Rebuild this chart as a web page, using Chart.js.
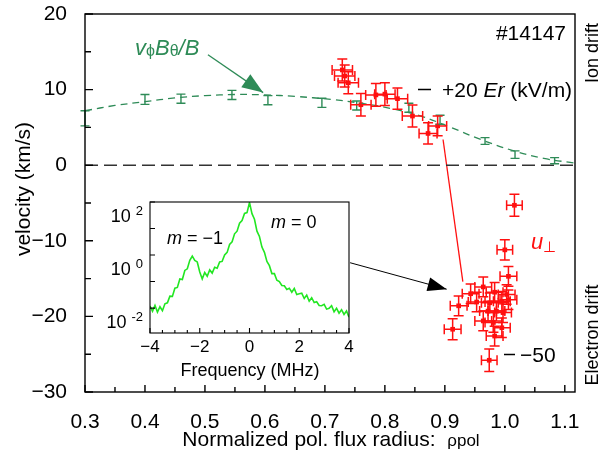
<!DOCTYPE html>
<html>
<head>
<meta charset="utf-8">
<script src="https://cdn.jsdelivr.net/npm/chart.js@4.4.1/dist/chart.umd.min.js"></script>
<style>
  html, body { margin: 0; padding: 0; background: #fff; }
  #wrap { position: relative; width: 610px; height: 451px; }
  #main { position: absolute; left: 0; top: 0; }
  #inset { position: absolute; left: 100px; top: 195px; }
</style>
</head>
<body>
<div id="wrap">
  <canvas id="main" width="610" height="451"></canvas>
  <canvas id="inset" width="260" height="190"></canvas>
</div>
<script>
const FONT = '"Liberation Sans", Arial, sans-serif';
const GREEN = '#2e8b57';
const RED = '#ff1010';
const LIME = '#22e622';

// v_phi * B_theta / B, with error bars
const greenRho = [0.30, 0.40, 0.46, 0.545, 0.605, 0.695, 0.753, 0.84, 0.892, 0.967, 1.017, 1.083];
const greenVel = [6.2, 8.7, 8.8, 9.3, 8.6, 8.25, 7.9, 7.6, 6.0, 3.2, 1.4, 0.6];
const greenErr = [1.0, 0.65, 0.6, 0.6, 0.6, 0.6, 0.6, 0.6, 0.6, 0.45, 0.5, 0.4];

// smooth fit through the v_phi B_theta / B points
const fitRho = [0.30, 0.35, 0.40, 0.45, 0.50, 0.55, 0.60, 0.65, 0.71, 0.76, 0.81, 0.86, 0.91, 0.96, 1.015, 1.065, 1.115];
const fitVel = [7.2, 7.9, 8.4, 8.9, 9.2, 9.35, 9.3, 9.1, 8.7, 8.2, 7.5, 6.5, 5.0, 3.4, 1.9, 0.9, 0.3];

// u_perp from Doppler reflectometry
const redRho = [0.729, 0.733, 0.739, 0.760, 0.785, 0.800, 0.821, 0.846, 0.872, 0.888,
                1.016, 1.000, 1.006, 0.964, 0.943, 0.923, 0.913, 0.983, 1.003, 0.953,
                0.975, 0.995, 1.006, 0.972, 0.986, 0.997, 0.964, 0.981, 0.995, 0.983, 0.974];
const redVel = [12.6, 11.8, 10.9, 8.0, 9.3, 9.4, 8.8, 6.5, 4.2, 5.2,
                -5.3, -11.2, -14.7, -16.1, -17.0, -18.6, -21.7, -16.8, -17.1, -18.1,
                -18.2, -18.0, -17.8, -19.3, -19.3, -19.5, -20.6, -20.8, -21.5, -22.6, -25.8];
const redErrX = [0.017, 0.017, 0.017, 0.017, 0.017, 0.017, 0.017, 0.017, 0.015, 0.015,
                 0.013, 0.013, 0.014, 0.014, 0.014, 0.014, 0.014, 0.014, 0.014, 0.014,
                 0.014, 0.014, 0.014, 0.014, 0.014, 0.014, 0.014, 0.014, 0.014, 0.014, 0.013];
const redErrY = [1.45, 1.45, 1.45, 1.5, 1.5, 1.5, 1.4, 1.45, 1.4, 1.3,
                 1.45, 1.35, 1.3, 1.3, 1.3, 1.3, 1.4, 1.3, 1.3, 1.3,
                 1.3, 1.3, 1.3, 1.3, 1.3, 1.3, 1.3, 1.3, 1.3, 1.3, 1.5];

// connector and arrows
const redLineRho = [0.897, 0.930];
const redLineVel = [3.4, -15.4];
const blackArrowRho = [0.742, 0.903];
const blackArrowVel = [-12.9, -16.4];
const greenArrowRho = [0.505, 0.597];
const greenArrowVel = [14.6, 9.6];

const xMax = 1.117;
const xTickVals = [0.3, 0.35, 0.4, 0.45, 0.5, 0.55, 0.6, 0.65, 0.7, 0.75, 0.8, 0.85, 0.9, 0.95, 1.0, 1.05, 1.1];
const xLabelTicks = [0.3, 0.4, 0.5, 0.6, 0.7, 0.8, 0.9, 1.0, 1.1];
const yTickVals = [20, 15, 10, 5, 0, -5, -10, -15, -20, -25, -30];
const yLabelTicks = [20, 10, 0, -10, -20, -30];

// inset: fluctuation spectrum (log10 of power) vs frequency
const freq = [-4.0, -3.9, -3.8, -3.7, -3.6, -3.5, -3.4, -3.3, -3.2, -3.1,
              -3.0, -2.9, -2.8, -2.7, -2.6, -2.5, -2.4, -2.3, -2.2, -2.1,
              -2.0, -1.9, -1.8, -1.7, -1.6, -1.5, -1.4, -1.3, -1.2, -1.1,
              -1.0, -0.9, -0.8, -0.7, -0.6, -0.5, -0.4, -0.3, -0.2, -0.1,
              0.0, 0.1, 0.2, 0.3, 0.4, 0.5, 0.6, 0.7, 0.8, 0.9,
              1.0, 1.1, 1.2, 1.3, 1.4, 1.5, 1.6, 1.7, 1.8, 1.9,
              2.0, 2.1, 2.2, 2.3, 2.4, 2.5, 2.6, 2.7, 2.8, 2.9,
              3.0, 3.1, 3.2, 3.3, 3.4, 3.5, 3.6, 3.7, 3.8, 3.9, 4.0];
const spectrumLog = [-1.92, -2.12, -1.90, -2.15, -1.95, -2.10, -1.84, -1.80, -1.55, -1.56,
                     -1.25, -1.22, -0.90, -0.92, -0.58, -0.52, -0.20, -0.04, -0.20, -0.26,
                     -0.64, -0.90, -0.66, -0.80, -0.56, -0.68, -0.46, -0.50, -0.26, -0.24,
                     0.00, 0.10, 0.40, 0.50, 0.80, 0.90, 1.20, 1.30, 1.57, 1.60,
                     1.98, 1.56, 1.35, 0.90, 0.70, 0.30, 0.10, -0.24, -0.40, -0.70,
                     -0.70, -0.95, -1.00, -1.15, -1.16, -1.30, -1.25, -1.40, -1.26, -1.49,
                     -1.46, -1.44, -1.64, -1.51, -1.74, -1.61, -1.79, -1.76, -1.90, -1.91,
                     -1.86, -2.04, -2.01, -1.91, -2.14, -2.01, -2.19, -2.06, -2.24, -2.11, -2.34];
const insetFreqTicks = [-4, -3.5, -3, -2.5, -2, -1.5, -1, -0.5, 0, 0.5, 1, 1.5, 2, 2.5, 3, 3.5, 4];
const insetFreqLabels = [-4, -2, 0, 2, 4];
const insetDecades = [2, 1, 0, -1, -2];
const insetDecadeLabels = [2, 0, -2];

const pts = (xs, ys) => xs.map((x, i) => ({ x: x, y: ys[i] }));
const minus = v => (v < 0 ? '\u2212' + (-v) : String(v));
const isIn = (list, v) => list.some(t => Math.abs(t - v) < 1e-6);

// draws a run of text pieces with their own fonts/offsets
function richText(ctx, x, y, parts, align) {
  let w = 0;
  parts.forEach(p => { ctx.font = p.font; w += ctx.measureText(p.t).width; });
  let cx = align === 'right' ? x - w : align === 'center' ? x - w / 2 : x;
  ctx.textAlign = 'left';
  ctx.textBaseline = 'alphabetic';
  parts.forEach(p => {
    ctx.font = p.font;
    ctx.fillText(p.t, cx, y + (p.dy || 0));
    cx += ctx.measureText(p.t).width;
  });
}

function arrowHead(ctx, x0, y0, x1, y1, len, half) {
  const a = Math.atan2(y1 - y0, x1 - x0);
  const c = Math.cos(a), s = Math.sin(a);
  ctx.beginPath();
  ctx.moveTo(x1, y1);
  ctx.lineTo(x1 - len * c + half * s, y1 - len * s - half * c);
  ctx.lineTo(x1 - len * c - half * s, y1 - len * s + half * c);
  ctx.closePath();
  ctx.fill();
}

// keep the plot box exactly where the layout padding puts it
const noLabelPadding = s => {
  s.paddingTop = 0; s.paddingBottom = 0; s.paddingLeft = 0; s.paddingRight = 0;
};

const mainDecor = {
  id: 'mainDecor',
  beforeDraw(chart) {
    const ctx = chart.ctx;
    ctx.save();
    ctx.fillStyle = '#fff';
    ctx.fillRect(0, 0, chart.width, chart.height);
    ctx.restore();
  },
  afterDatasetsDraw(chart) {
    const ctx = chart.ctx;
    const xs = chart.scales.x, ys = chart.scales.y;
    ctx.save();
    chart.data.datasets.forEach(ds => {
      if (ds.errY) {
        ctx.strokeStyle = ds.borderColor;
        ctx.lineWidth = ds.errWidth;
        const cap = ds.cap;
        ds.data.forEach((d, i) => {
          const px = xs.getPixelForValue(d.x), py = ys.getPixelForValue(d.y);
          const y1 = ys.getPixelForValue(d.y + ds.errY[i]);
          const y2 = ys.getPixelForValue(d.y - ds.errY[i]);
          ctx.beginPath();
          ctx.moveTo(px, y1); ctx.lineTo(px, y2);
          ctx.moveTo(px - cap, y1); ctx.lineTo(px + cap, y1);
          ctx.moveTo(px - cap, y2); ctx.lineTo(px + cap, y2);
          if (ds.errX) {
            const x1 = xs.getPixelForValue(d.x - ds.errX[i]);
            const x2 = xs.getPixelForValue(d.x + ds.errX[i]);
            ctx.moveTo(x1, py); ctx.lineTo(x2, py);
            ctx.moveTo(x1, py - cap); ctx.lineTo(x1, py + cap);
            ctx.moveTo(x2, py - cap); ctx.lineTo(x2, py + cap);
          }
          ctx.stroke();
        });
      }
      if (ds.arrow) {
        const n = ds.data.length;
        const a = ds.data[n - 2], b = ds.data[n - 1];
        ctx.fillStyle = ds.borderColor;
        arrowHead(ctx, xs.getPixelForValue(a.x), ys.getPixelForValue(a.y),
                  xs.getPixelForValue(b.x), ys.getPixelForValue(b.y), ds.arrow[0], ds.arrow[1]);
      }
    });
    ctx.restore();
  },
  afterDraw(chart) {
    const ctx = chart.ctx;
    const a = chart.chartArea;
    const xs = chart.scales.x, ys = chart.scales.y;
    ctx.save();
    // frame and inward ticks
    ctx.strokeStyle = '#000';
    ctx.lineWidth = 1.4;
    ctx.strokeRect(a.left, a.top, a.right - a.left, a.bottom - a.top);
    ctx.beginPath();
    xs.ticks.forEach(t => {
      const px = xs.getPixelForValue(t.value);
      ctx.moveTo(px, a.bottom); ctx.lineTo(px, a.bottom - (isIn(xLabelTicks, t.value) ? 7 : 5));
    });
    ys.ticks.forEach(t => {
      const py = ys.getPixelForValue(t.value);
      ctx.moveTo(a.left, py); ctx.lineTo(a.left + (isIn(yLabelTicks, t.value) ? 8 : 6), py);
    });
    ctx.stroke();

    ctx.fillStyle = '#000';
    // axis titles
    ctx.save();
    ctx.translate(24, 189);
    ctx.rotate(-Math.PI / 2);
    ctx.font = '21px ' + FONT;
    ctx.textAlign = 'center';
    ctx.textBaseline = 'middle';
    ctx.fillText('velocity (km/s)', 0, 0);
    ctx.restore();
    richText(ctx, 331, 446, [
      { t: 'Normalized pol. flux radius:  ', font: '21px ' + FONT },
      { t: '\u03c1pol', font: '17px ' + FONT }
    ], 'center');

    // side labels
    ctx.font = '18px ' + FONT;
    ctx.textAlign = 'center';
    ctx.textBaseline = 'middle';
    [['Ion drift', 53], ['Electron drift', 335]].forEach(([txt, cy]) => {
      ctx.save();
      ctx.translate(593, cy);
      ctx.rotate(-Math.PI / 2);
      ctx.fillText(txt, 0, 0);
      ctx.restore();
    });

    // annotations
    richText(ctx, 566, 40, [{ t: '#14147', font: '21px ' + FONT }], 'right');
    ctx.lineWidth = 1.6;
    ctx.beginPath();
    ctx.moveTo(418, 89.5); ctx.lineTo(431, 89.5);
    ctx.moveTo(504, 354.5); ctx.lineTo(515, 354.5);
    ctx.stroke();
    richText(ctx, 442, 97, [
      { t: '+20 ', font: '21px ' + FONT },
      { t: 'Er', font: 'italic 21px ' + FONT },
      { t: ' (kV/m)', font: '21px ' + FONT }
    ], 'left');
    richText(ctx, 520, 362, [{ t: '\u221250', font: '21px ' + FONT }], 'left');

    ctx.fillStyle = RED;
    richText(ctx, 531, 249, [
      { t: 'u', font: 'italic 22px ' + FONT },
      { t: '\u22a5', font: '15px ' + FONT, dy: 3 }
    ], 'left');

    ctx.fillStyle = GREEN;
    richText(ctx, 135, 55, [
      { t: 'v', font: 'italic 22px ' + FONT },
      { t: '\u03d5', font: '16px ' + FONT, dy: 1 },
      { t: 'B', font: 'italic 22px ' + FONT },
      { t: '\u03b8', font: '16px ' + FONT, dy: 1 },
      { t: '/B', font: 'italic 22px ' + FONT }
    ], 'left');
    ctx.restore();
  }
};

new Chart(document.getElementById('main'), {
  type: 'scatter',
  data: {
    datasets: [
      {
        data: [{ x: 0.3, y: 0 }, { x: xMax, y: 0 }],
        showLine: true, borderColor: '#333', borderWidth: 1.5, borderDash: [13, 6], pointRadius: 0
      },
      {
        data: pts(fitRho, fitVel),
        showLine: true, tension: 0.4, borderColor: GREEN, borderWidth: 1.3, borderDash: [7, 5], pointRadius: 0
      },
      {
        data: pts(greenRho, greenVel),
        borderColor: GREEN, backgroundColor: GREEN, pointRadius: 0,
        errY: greenErr, errWidth: 1.4, cap: 4.5
      },
      {
        data: pts(redLineRho, redLineVel),
        showLine: true, borderColor: RED, borderWidth: 1.3, pointRadius: 0
      },
      {
        data: pts(redRho, redVel),
        borderColor: RED, backgroundColor: RED, pointStyle: 'rect', pointRadius: 3.3, borderWidth: 0,
        errY: redErrY, errX: redErrX, errWidth: 1.5, cap: 5
      },
      {
        data: pts(blackArrowRho, blackArrowVel),
        showLine: true, borderColor: '#000', borderWidth: 1, pointRadius: 0, arrow: [19, 7]
      },
      {
        data: pts(greenArrowRho, greenArrowVel),
        showLine: true, borderColor: GREEN, borderWidth: 1.3, pointRadius: 0, arrow: [21, 8]
      }
    ]
  },
  options: {
    responsive: false,
    animation: false,
    events: [],
    layout: { padding: { left: 0, right: 35, top: 14, bottom: 0 } },
    plugins: { legend: { display: false }, tooltip: { enabled: false } },
    scales: {
      x: {
        type: 'linear', min: 0.3, max: xMax,
        grid: { display: false }, border: { display: false },
        ticks: {
          autoSkip: false, maxRotation: 0, padding: 10, color: '#000',
          font: { family: FONT, size: 21 },
          callback: v => (isIn(xLabelTicks, v) ? v.toFixed(1) : '')
        },
        afterBuildTicks: s => { s.ticks = xTickVals.map(v => ({ value: v })); },
        afterFit: s => { s.height = 59; noLabelPadding(s); }
      },
      y: {
        type: 'linear', min: -30, max: 20,
        grid: { display: false }, border: { display: false },
        ticks: {
          autoSkip: false, padding: 10, color: '#000',
          font: { family: FONT, size: 21 },
          callback: v => (isIn(yLabelTicks, v) ? minus(v) : '')
        },
        afterBuildTicks: s => { s.ticks = yTickVals.map(v => ({ value: v })); },
        afterFit: s => { s.width = 85; noLabelPadding(s); }
      }
    }
  },
  plugins: [mainDecor]
});

const insetDecor = {
  id: 'insetDecor',
  beforeDraw(chart) {
    const a = chart.chartArea, ctx = chart.ctx;
    ctx.save();
    ctx.fillStyle = '#fff';
    ctx.fillRect(a.left, a.top, a.right - a.left, a.bottom - a.top);
    ctx.restore();
  },
  afterDraw(chart) {
    const ctx = chart.ctx;
    const a = chart.chartArea;
    const xs = chart.scales.x, ys = chart.scales.y;
    ctx.save();
    ctx.strokeStyle = '#000';
    ctx.lineWidth = 1.1;
    ctx.strokeRect(a.left, a.top, a.right - a.left, a.bottom - a.top);
    ctx.beginPath();
    xs.ticks.forEach(t => {
      const px = xs.getPixelForValue(t.value);
      ctx.moveTo(px, a.bottom); ctx.lineTo(px, a.bottom - (isIn(insetFreqLabels, t.value) ? 5 : 3));
    });
    insetDecades.forEach(e => {
      const py = ys.getPixelForValue(Math.pow(10, e));
      ctx.moveTo(a.left, py); ctx.lineTo(a.left + 5, py);
    });
    ctx.stroke();

    ctx.fillStyle = '#000';
    // frequency tick labels
    ctx.font = '17px ' + FONT;
    ctx.textAlign = 'center';
    ctx.textBaseline = 'middle';
    insetFreqLabels.forEach(f => {
      ctx.fillText(minus(f), xs.getPixelForValue(f), a.bottom + 14);
    });
    // decade labels 10^n
    insetDecadeLabels.forEach(e => {
      const py = ys.getPixelForValue(Math.pow(10, e));
      ctx.font = '13px ' + FONT;
      ctx.textAlign = 'right';
      ctx.textBaseline = 'alphabetic';
      const sup = e < 0 ? '-' + (-e) : String(e);
      ctx.fillText(sup, 43, py + 13);
      const sw = ctx.measureText(sup).width;
      ctx.font = '18px ' + FONT;
      ctx.fillText('10 ', 43 - sw, py + 20);
    });
    richText(ctx, 150, 181, [{ t: 'Frequency (MHz)', font: '18px ' + FONT }], 'center');
    richText(ctx, 67, 49, [
      { t: 'm', font: 'italic 18px ' + FONT },
      { t: ' = \u22121', font: '18px ' + FONT }
    ], 'left');
    richText(ctx, 171, 33, [
      { t: 'm', font: 'italic 18px ' + FONT },
      { t: ' = 0', font: '18px ' + FONT }
    ], 'left');
    ctx.restore();
  }
};

new Chart(document.getElementById('inset'), {
  type: 'scatter',
  data: {
    datasets: [{
      data: pts(freq, spectrumLog.map(v => Math.pow(10, v))),
      showLine: true, borderColor: LIME, borderWidth: 1.6, pointRadius: 0
    }]
  },
  options: {
    responsive: false,
    animation: false,
    events: [],
    layout: { padding: { left: 0, right: 11, top: 7, bottom: 0 } },
    plugins: { legend: { display: false }, tooltip: { enabled: false } },
    scales: {
      x: {
        type: 'linear', min: -4, max: 4,
        grid: { display: false }, border: { display: false },
        ticks: { autoSkip: false, display: false },
        afterBuildTicks: s => { s.ticks = insetFreqTicks.map(v => ({ value: v })); },
        afterFit: s => { s.height = 52; noLabelPadding(s); }
      },
      y: {
        type: 'logarithmic', min: 0.00115, max: 100,
        grid: { display: false }, border: { display: false },
        ticks: { display: false },
        afterBuildTicks: s => { s.ticks = insetDecades.map(e => ({ value: Math.pow(10, e) })); },
        afterFit: s => { s.width = 50; noLabelPadding(s); }
      }
    }
  },
  plugins: [insetDecor]
});
</script>
</body>
</html>
